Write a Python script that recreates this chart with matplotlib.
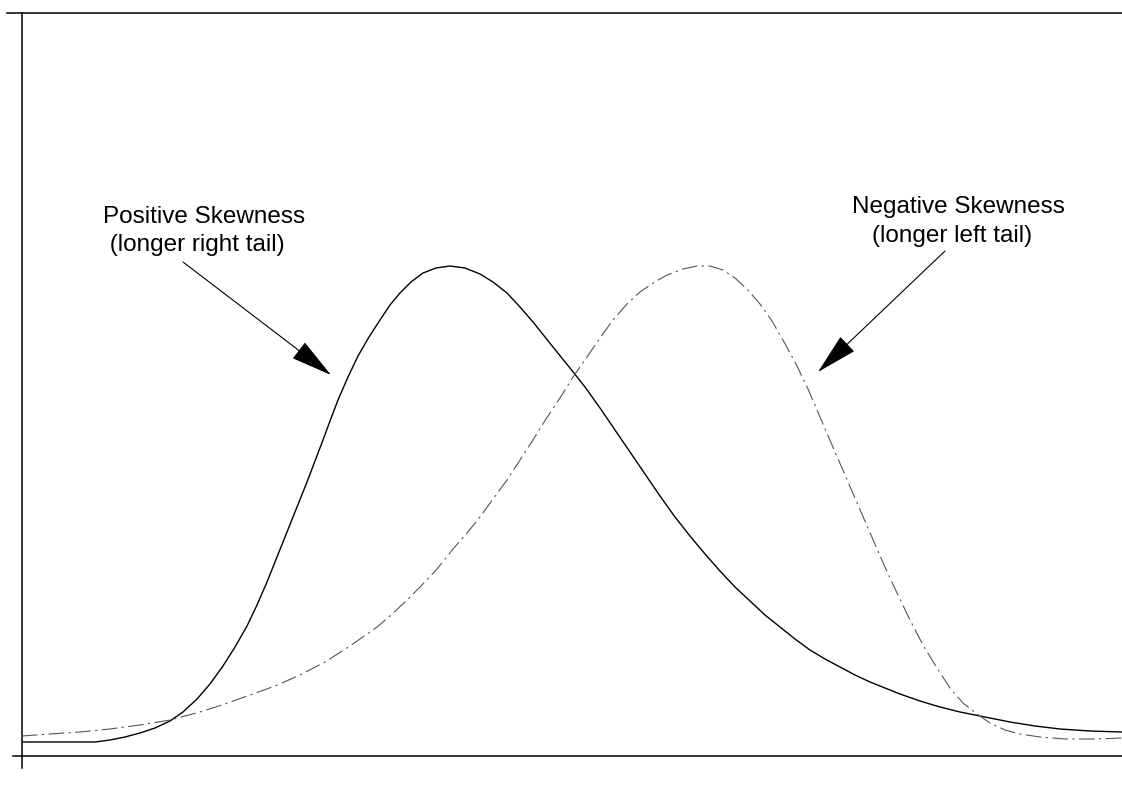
import numpy as np
import matplotlib
matplotlib.use('Agg')
import matplotlib.pyplot as plt

# data (x along the axis, y height above the baseline)
pos_x = [0, 38, 73, 88, 103, 118, 133, 148, 161, 175, 188, 201, 213, 225, 235, 245, 255, 265, 275, 285,
         293, 301, 308, 316, 326, 336, 347, 358, 368, 378, 389, 401, 414, 428, 443, 458, 471, 485, 498, 511,
         523, 535, 548, 563, 578, 593, 608, 623, 638, 653, 668, 683, 698, 713, 728, 743, 758, 773, 788, 803,
         818, 833, 848, 863, 878, 898, 918, 938, 963, 988, 1013, 1038, 1068, 1100]
pos_y = [14, 14, 14, 16, 19, 23, 28, 35, 44, 57, 72, 90, 109, 130, 151, 174, 199, 224, 249, 274,
         295, 316, 335, 356, 379, 400, 419, 436, 451, 463, 474, 483, 488, 490, 488, 482, 474, 463, 449, 434,
         419, 404, 388, 369, 348, 326, 304, 282, 260, 239, 220, 202, 185, 169, 155, 141, 129, 117, 106, 97,
         89, 81, 74, 68, 62, 55, 49, 44, 39, 34, 30, 27, 25, 24]

neg_x = [0, 28, 58, 88, 118, 148, 178, 203, 228, 253, 278, 303, 328, 355, 368, 383, 398, 415, 431, 445,
         458, 471, 485, 498, 511, 524, 538, 551, 565, 578, 591, 605, 618, 631, 645, 661, 675, 688, 701, 713,
         725, 738, 750, 762, 774, 786, 798, 810, 823, 836, 849, 862, 875, 888, 901, 915, 928, 941, 955, 968,
         983, 998, 1018, 1043, 1073, 1100]
neg_y = [20, 22, 24, 27, 31, 36, 44, 52, 61, 70, 81, 94, 110, 129, 140, 154, 169, 187, 207, 223,
         239, 257, 276, 296, 316, 337, 358, 379, 399, 418, 436, 452, 464, 473, 481, 487, 490, 490, 486, 478,
         467, 452, 435, 414, 392, 367, 339, 311, 281, 251, 221, 191, 163, 136, 111, 88, 68, 53, 42, 33,
         26, 22, 19, 17, 17, 18]

pos_label = ['Positive Skewness', ' (longer right tail)']
neg_label = ['Negative Skewness', '(longer left tail)']

plt.rcParams['font.family'] = ['Liberation Sans', 'DejaVu Sans']

fig = plt.figure(figsize=(11.22, 8.03), dpi=100)
ax = fig.add_axes([22 / 1122, 46 / 803, 1100 / 1122, 743 / 803])
ax.set_xlim(0, 1100)
ax.set_ylim(0, 743)
ax.axis('off')

# frame lines (left, bottom, top), drawn a bit past the corners like the scan
ax.plot([0, 0], [-12, 743], color='black', lw=1.1, clip_on=False)
ax.plot([-9, 1100], [0, 0], color='black', lw=1.1, clip_on=False)
ax.plot([-15, 1100], [743, 743], color='black', lw=1.1, clip_on=False)

# the two curves
ax.plot(pos_x, pos_y, color='black', lw=1.0, solid_joinstyle='round', solid_capstyle='round')
ax.plot(neg_x, neg_y, color='#555555', lw=0.8, linestyle=(0, (14, 4, 2, 4)))

# labels
ax.text(81, 534, pos_label[0], fontsize=17.5, ha='left', va='baseline')
ax.text(81, 506, pos_label[1], fontsize=17.5, ha='left', va='baseline')
ax.text(830, 544, neg_label[0], fontsize=17.5, ha='left', va='baseline')
ax.text(850, 515, neg_label[1], fontsize=17.5, ha='left', va='baseline')

# arrows
arrow = dict(arrowstyle='-|>,head_length=0.45,head_width=0.11', mutation_scale=60,
             lw=0.8, color='black', shrinkA=0, shrinkB=0)
ax.annotate('', xy=(309, 381), xytext=(161, 494), arrowprops=arrow)
ax.annotate('', xy=(796, 384), xytext=(923, 505), arrowprops=arrow)

plt.savefig('out.png', dpi=100)
